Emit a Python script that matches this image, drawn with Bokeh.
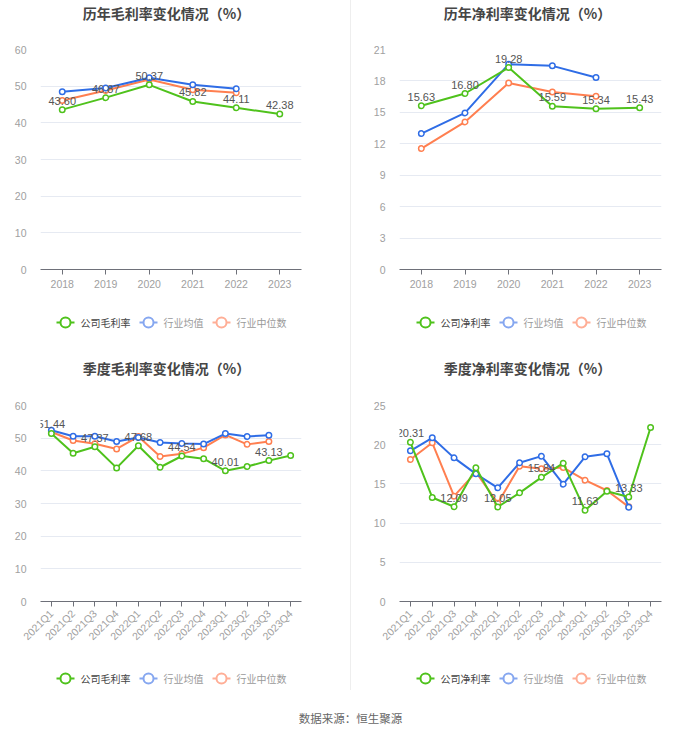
import math
from bokeh.plotting import figure
from bokeh.models import Range1d, FactorRange, FixedTicker, Spacer
from bokeh.layouts import column, row
from bokeh.embed import file_html
from bokeh.resources import INLINE
from bokeh.core.properties import value

years = ["2018", "2019", "2020", "2021", "2022", "2023"]
quarters = ["2021Q1", "2021Q2", "2021Q3", "2021Q4", "2022Q1", "2022Q2",
            "2022Q3", "2022Q4", "2023Q1", "2023Q2", "2023Q3", "2023Q4"]

ann_gross_company = [43.60, 46.87, 50.37, 45.82, 44.11, 42.38]
ann_gross_avg = [48.5, 49.5, 52.3, 50.4, 49.3]
ann_gross_median = [46.1, 48.8, 51.8, 49.0, 48.2]

ann_net_company = [15.63, 16.80, 19.28, 15.59, 15.34, 15.43]
ann_net_avg = [12.97, 14.95, 19.60, 19.44, 18.32]
ann_net_median = [11.54, 14.09, 17.81, 16.95, 16.54]

q_gross_company = [51.44, 45.4, 47.37, 40.9, 47.68, 41.1, 44.54, 43.7, 40.01, 41.3, 43.13, 44.7]
q_gross_avg = [52.4, 50.6, 50.6, 49.0, 50.2, 48.7, 48.4, 48.2, 51.4, 50.5, 50.9]
q_gross_median = [51.9, 49.3, 48.3, 46.7, 50.5, 44.4, 45.2, 47.1, 51.0, 48.1, 49.0]

q_net_company = [20.31, 13.27, 12.09, 17.05, 12.05, 13.86, 15.84, 17.64, 11.63, 14.07, 13.33, 22.19]
q_net_avg = [19.22, 20.88, 18.32, 16.28, 14.50, 17.69, 18.54, 14.97, 18.45, 18.84, 12.03]
q_net_median = [18.11, 20.24, 13.44, 16.50, 12.54, 17.26, 16.92, 17.09, 15.48, 14.16, 12.07]

titles = ["历年毛利率变化情况（%）", "历年净利率变化情况（%）",
          "季度毛利率变化情况（%）", "季度净利率变化情况（%）"]
series_names_gross = ["公司毛利率", "行业均值", "行业中位数"]
series_names_net = ["公司净利率", "行业均值", "行业中位数"]
source_text = "数据来源：恒生聚源"

GREEN = "#4fc21c"
BLUE = "#2f6de6"
ORANGE = "#ff7f50"
BLUE_L = "#86a7f0"
ORANGE_L = "#ffae96"
CJK = "Noto Sans CJK SC"


def strip(width, height, lb=0, rb=0):
    # data coordinates equal panel pixels, frame matches the chart frame
    s = figure(width=width, height=height, x_range=Range1d(lb, width - rb),
               y_range=Range1d(0, height), toolbar_location=None,
               output_backend="svg", x_axis_type=None, y_axis_type=None,
               min_border_left=lb, min_border_right=rb,
               min_border_top=0, min_border_bottom=0)
    s.grid.visible = False
    s.outline_line_color = None
    return s


def title_strip(text, width, height, lb, rb, cx, cy_from_top):
    s = strip(width, height, lb, rb)
    s.text([cx], [height - cy_from_top], text=[text], text_align="center",
           text_baseline="middle", text_font=value(CJK), text_font_size="14px",
           text_font_style="bold", text_color="#464646")
    return s


def legend_strip(names, width, height, lb, rb, start, cy_from_top):
    s = strip(width, height, lb, rb)
    cy = height - cy_from_top
    x = start
    cols = [GREEN, BLUE_L, ORANGE_L]
    tcols = ["#444444", "#9a9a9a", "#9a9a9a"]
    for name, c, tc in zip(names, cols, tcols):
        s.line([x, x + 18], [cy, cy], line_color=c, line_width=2)
        s.scatter([x + 9], [cy], size=10, line_color=c, line_width=2,
                  fill_color="white")
        s.text([x + 24], [cy], text=[name], text_align="left",
               text_baseline="middle", text_font=value(CJK),
               text_font_size="10px", text_color=tc)
        x += 24 + len(name) * 10 + 9
    return s


def main_panel(cats, company, avg, median, ymax, step, label_idx, rotate,
               width, height, mb):
    p = figure(width=width, height=height, x_range=FactorRange(*cats),
               y_range=Range1d(0, ymax), toolbar_location=None,
               output_backend="svg",
               min_border_left=mb[0], min_border_right=mb[1],
               min_border_top=mb[2], min_border_bottom=mb[3])
    p.outline_line_color = None

    ticks = list(range(0, ymax + 1, step))
    p.yaxis.ticker = FixedTicker(ticks=ticks)
    p.yaxis.axis_line_color = None
    p.yaxis.major_tick_line_color = None
    p.yaxis.minor_tick_line_color = None
    p.yaxis.major_label_text_color = "#a0a0a0"
    p.yaxis.major_label_text_font_size = "10.5px"
    p.yaxis.major_label_standoff = 8
    p.ygrid.ticker = FixedTicker(ticks=ticks)
    p.ygrid.grid_line_color = "#e6eaf2"
    p.xgrid.grid_line_color = None

    p.xaxis.axis_line_color = "#6e7079"
    p.xaxis.major_tick_line_color = "#6e7079"
    p.xaxis.major_tick_out = 5
    p.xaxis.major_tick_in = 0
    p.xaxis.major_label_text_color = "#a0a0a0"
    p.xaxis.major_label_text_font_size = "10.5px"
    p.xaxis.major_label_standoff = 5
    if rotate:
        p.xaxis.major_label_orientation = math.pi / 4

    ind_cats = cats[:len(avg)]
    for xs, ys, col in [(ind_cats, median, ORANGE), (ind_cats, avg, BLUE),
                        (cats, company, GREEN)]:
        p.line(xs, ys, line_color=col, line_width=2)
        p.scatter(xs, ys, size=5.5, line_color=col, line_width=1.5,
                  fill_color="white")

    lx = [cats[i] for i in label_idx]
    ly = [company[i] for i in label_idx]
    lt = ["%.2f" % company[i] for i in label_idx]
    p.text(lx, ly, text=lt, text_align="center", text_baseline="bottom",
           y_offset=-5, text_font_size="11px", text_color="#555555")
    return p


all_years = list(range(len(years)))
every_other = list(range(0, len(quarters), 2))

LW, RW = 350, 349
LB_L, RB_L = 40, 49
LB_R, RB_R = 48, 39

# top-left
t1 = title_strip(titles[0], LW, 28, LB_L, RB_L, 166, 12)
m1 = main_panel(years, ann_gross_company, ann_gross_avg, ann_gross_median, 60, 10,
                all_years, False, LW, 272, (LB_L, RB_L, 21, 31))
l1 = legend_strip(series_names_gross, LW, 50, LB_L, RB_L, 56, 22)
# top-right
t2 = title_strip(titles[1], RW, 28, LB_R, RB_R, 176, 12)
m2 = main_panel(years, ann_net_company, ann_net_avg, ann_net_median, 21, 3,
                all_years, False, RW, 272, (LB_R, RB_R, 21, 31))
l2 = legend_strip(series_names_net, RW, 50, LB_R, RB_R, 65, 22)
# bottom-left
t3 = title_strip(titles[2], LW, 30, LB_L, RB_L, 166, 17)
m3 = main_panel(quarters, q_gross_company, q_gross_avg, q_gross_median, 60, 10,
                every_other, True, LW, 275, (LB_L, RB_L, 25, 54))
l3 = legend_strip(series_names_gross, LW, 35, LB_L, RB_L, 56, 23)
# bottom-right
t4 = title_strip(titles[3], RW, 30, LB_R, RB_R, 176, 17)
m4 = main_panel(quarters, q_net_company, q_net_avg, q_net_median, 25, 5,
                every_other, True, RW, 275, (LB_R, RB_R, 25, 54))
l4 = legend_strip(series_names_net, RW, 35, LB_R, RB_R, 65, 23)

foot = strip(700, 43)
foot.text([350], [43 - 27], text=[source_text], text_align="center",
          text_baseline="middle", text_font=value(CJK), text_font_size="11.5px",
          text_color="#666666")

sep = Spacer(width=1, height=690, styles={"background-color": "#eeeeee"})

left = column(t1, m1, l1, t3, m3, l3)
right = column(t2, m2, l2, t4, m4, l4)
layout = column(row(left, sep, right), foot)

open("out.html", "w").write(file_html(layout, INLINE))
